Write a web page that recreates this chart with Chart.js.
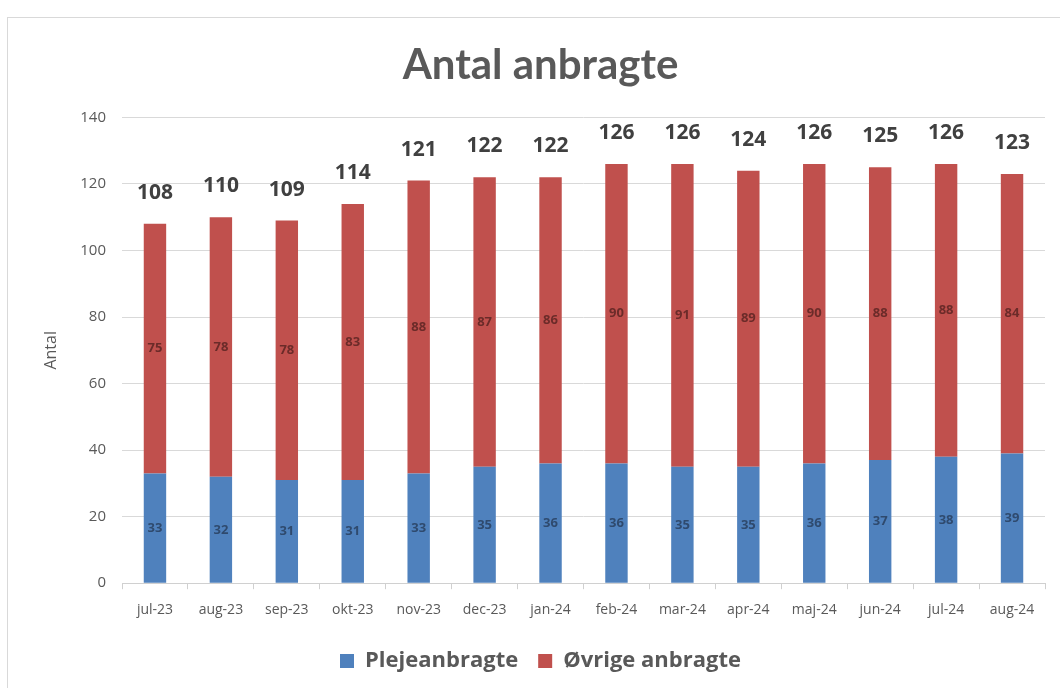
<!DOCTYPE html>
<html>
<head>
<meta charset="utf-8">
<script src="https://cdn.jsdelivr.net/npm/chart.js@4.4.1/dist/chart.umd.min.js"></script>
<style>
  html, body { margin: 0; padding: 0; background: #fff; }
  #frame { position: absolute; left: 7px; top: 17px; width: 1100px; height: 720px; border: 1px solid #d9d9d9; box-sizing: border-box; }
  #wrap { position: absolute; left: 0; top: 0; width: 1060px; height: 688px; }
</style>
</head>
<body>
<div id="frame"></div>
<div id="wrap"><canvas id="c" width="1060" height="688"></canvas></div>
<script>
const categories = ['jul-23','aug-23','sep-23','okt-23','nov-23','dec-23','jan-24','feb-24','mar-24','apr-24','maj-24','jun-24','jul-24','aug-24'];
const plejeanbragte = [33, 32, 31, 31, 33, 35, 36, 36, 35, 35, 36, 37, 38, 39];
const oevrigeAnbragte = [75, 78, 78, 83, 88, 87, 86, 90, 91, 89, 90, 88, 88, 84];
const totals = [108, 110, 109, 114, 121, 122, 122, 126, 126, 124, 126, 125, 126, 123];

const grey = '#595959';
const labelPlugin = {
  id: 'labels',
  afterDatasetsDraw(chart) {
    const ctx = chart.ctx;
    const ys = chart.scales.y;
    ctx.save();
    ctx.textAlign = 'center';
    ctx.textBaseline = 'middle';
    chart.data.datasets.forEach((ds, di) => {
      const meta = chart.getDatasetMeta(di);
      meta.data.forEach((bar, i) => {
        const base = di === 0 ? 0 : plejeanbragte[i];
        const mid = ys.getPixelForValue(base + ds.data[i] / 2);
        ctx.font = 'bold 13px "Open Sans", sans-serif';
        ctx.fillStyle = di === 0 ? '#2f4a6e' : '#6b2b29';
        ctx.fillText(String(ds.data[i]), bar.x, mid);
      });
    });
    const meta0 = chart.getDatasetMeta(0);
    ctx.font = 'bold 21px "Open Sans", sans-serif';
    ctx.fillStyle = '#404040';
    meta0.data.forEach((bar, i) => {
      const y = ys.getPixelForValue(totals[i]) - 31;
      ctx.fillText(String(totals[i]), bar.x, y);
    });
    ctx.restore();
  }
};

new Chart(document.getElementById('c'), {
  type: 'bar',
  data: {
    labels: categories,
    datasets: [
      { label: 'Plejeanbragte', data: plejeanbragte, backgroundColor: '#4F81BD', categoryPercentage: 1, barPercentage: 0.34 },
      { label: 'Øvrige anbragte', data: oevrigeAnbragte, backgroundColor: '#C0504D', categoryPercentage: 1, barPercentage: 0.34 }
    ]
  },
  options: {
    responsive: false,
    animation: false,
    devicePixelRatio: 1,
    layout: { padding: { left: 36, right: 15, top: 0, bottom: 6 } },
    plugins: {
      title: {
        display: true,
        text: 'Antal anbragte',
        color: grey,
        font: { family: 'Lato', size: 42, weight: 'bold' },
        padding: { top: 40, bottom: 27 }
      },
      legend: {
        position: 'bottom',
        labels: {
          color: grey,
          font: { family: '"Open Sans"', size: 22, weight: 'bold' },
          boxWidth: 14, boxHeight: 14, padding: 20
        }
      },
      tooltip: { enabled: false }
    },
    scales: {
      x: {
        stacked: true,
        grid: { display: true, drawOnChartArea: false, drawTicks: true, tickLength: 6, color: '#d0d0d0', offset: true },
        border: { display: true, color: '#d0d0d0' },
        ticks: { color: grey, font: { family: '"Open Sans"', size: 14 }, padding: 12, maxRotation: 0 }
      },
      y: {
        stacked: true,
        min: 0, max: 140,
        ticks: { stepSize: 20, color: grey, font: { family: '"Open Sans"', size: 15 }, padding: 16 },
        grid: { color: '#d9d9d9', drawTicks: false },
        border: { display: false },
        title: { display: true, text: 'Antal', color: grey, font: { family: '"Open Sans"', size: 16 }, padding: 6 },
        afterFit(scale) { scale.width = 86; }
      }
    }
  },
  plugins: [labelPlugin]
});
</script>
</body>
</html>
